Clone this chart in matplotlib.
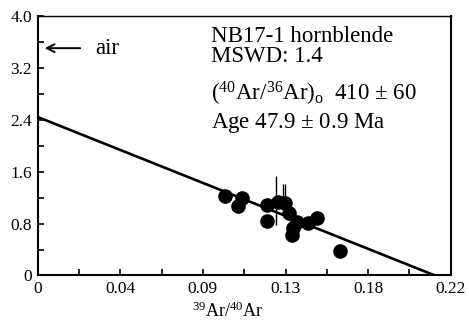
import numpy as np
import matplotlib
matplotlib.use("Agg")
import matplotlib.pyplot as plt

plt.rcParams['font.family'] = ['Liberation Serif', 'DejaVu Serif']
plt.rcParams['mathtext.fontset'] = 'custom'
plt.rcParams['mathtext.rm'] = 'Liberation Serif'
plt.rcParams['mathtext.it'] = 'Liberation Serif:italic'

#%% Donnees (39Ar/40Ar, 36Ar/40Ar x 1000)
x_pts = [0.0998, 0.1087, 0.1069, 0.1223, 0.1223, 0.1282, 0.1317, 0.1340,
         0.1380, 0.1362, 0.1353, 0.1441, 0.1489, 0.1610]
y_pts = [1.224, 1.189, 1.070, 1.085, 0.844, 1.136, 1.116, 0.958,
         0.828, 0.730, 0.624, 0.804, 0.881, 0.382]

# barres d'erreur visibles
err_x = [0.1271, 0.1304, 0.1315]
err_lo = [0.78, 1.05, 1.05]
err_hi = [1.53, 1.41, 1.41]

# isochrone
y_int = 2.44
x_int = 0.2116
air_y = 3.5

x_major = [0, 0.044, 0.088, 0.132, 0.176, 0.22]
x_labels = ["0", "0.04", "0.09", "0.13", "0.18", "0.22"]
y_major = [0, 0.8, 1.6, 2.4, 3.2, 4.0]
y_labels = ["0", "0.8", "1.6", "2.4", "3.2", "4.0"]

#%% Figure
fig = plt.figure(figsize=(4.69, 3.27), dpi=100)
ax = fig.add_axes([0.0804, 0.1575, 0.8806, 0.7945])

xl = np.array([0, x_int])
ax.plot(xl, y_int * (1 - xl / x_int), color="k", lw=1.9, zorder=2)
ax.vlines(err_x, err_lo, err_hi, color="k", lw=1.0, zorder=3)
ax.plot(x_pts, y_pts, "o", color="k", ms=9.5, zorder=4)

ax.annotate("", xy=(0.0022, air_y), xytext=(0.0241, air_y),
            arrowprops=dict(arrowstyle="->", color="k", lw=1.4,
                            mutation_scale=14))
ax.text(0.0305, air_y, "air", fontsize=16.5, va="center", ha="left")

tx = 0.42
fs = 16.5
ax.text(tx, 0.899, "NB17-1 hornblende", transform=ax.transAxes, fontsize=fs, va="baseline")
ax.text(tx, 0.822, "MSWD: 1.4", transform=ax.transAxes, fontsize=fs, va="baseline")
ax.text(tx, 0.675, r"$(^{40}\mathrm{Ar}/^{36}\mathrm{Ar})_\mathrm{o}$  410 $\pm$ 60",
        transform=ax.transAxes, fontsize=fs, va="baseline")
ax.text(tx, 0.568, r"Age 47.9 $\pm$ 0.9 Ma", transform=ax.transAxes, fontsize=fs, va="baseline")

ax.set_xlim(0, 0.22)
ax.set_ylim(0, 4.0)
ax.set_xticks(x_major)
ax.set_xticklabels(x_labels)
ax.set_xticks(np.arange(0.022, 0.22, 0.044), minor=True)
ax.set_yticks(y_major)
ax.set_yticklabels(y_labels)
ax.set_yticks(np.arange(0.4, 4.0, 0.8), minor=True)
ax.tick_params(which="both", direction="in", length=4, width=1.2, labelsize=12.5)
ax.tick_params(axis="x", pad=4)
ax.tick_params(axis="y", pad=4)
for s in ax.spines.values():
    s.set_linewidth(1.5)
ax.spines["top"].set_linewidth(1.0)

ax.set_xlabel(r"$^{39}\mathrm{Ar}/^{40}\mathrm{Ar}$", fontsize=13, labelpad=4)
ax.xaxis.set_label_coords(0.46, -0.1)
ax.xaxis.label.set_va("top")

fig.savefig("out.png", dpi=100)
